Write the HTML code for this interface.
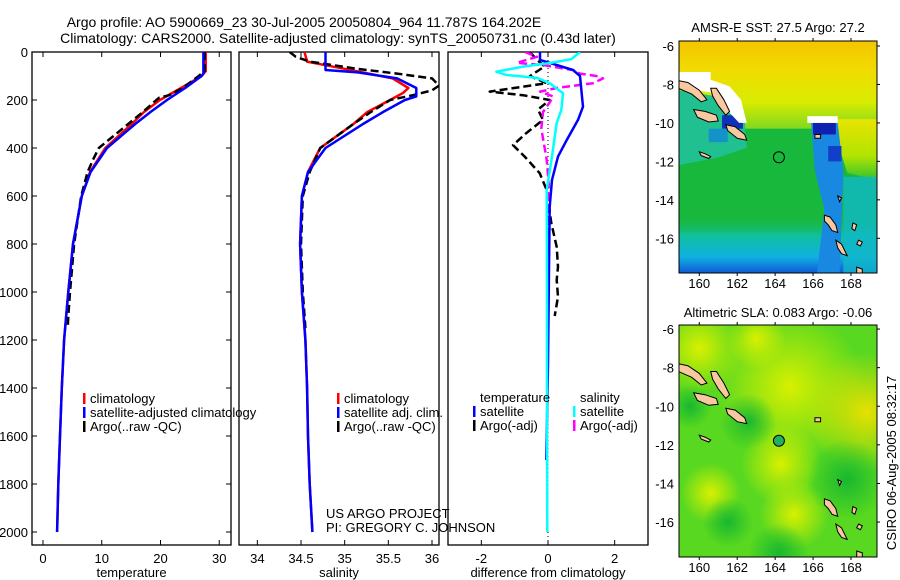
<!DOCTYPE html>
<html><head><meta charset="utf-8"><style>
html,body{margin:0;padding:0;background:#fff;}
svg{display:block;font-family:"Liberation Sans",sans-serif;}
</style></head><body>
<svg id="fig" width="900" height="580" viewBox="0 0 900 580" xmlns="http://www.w3.org/2000/svg">
<defs>
<clipPath id="c1"><rect x="32" y="52" width="199" height="493"/></clipPath>
<clipPath id="c2"><rect x="239" y="52" width="200" height="493"/></clipPath>
<clipPath id="c3"><rect x="448" y="52" width="200" height="493"/></clipPath>
<clipPath id="cm1"><rect x="679" y="41" width="198" height="232"/></clipPath>
<clipPath id="cm2"><rect x="679" y="325" width="198" height="232"/></clipPath>
<linearGradient id="gTop" x1="0" y1="0" x2="0" y2="1">
<stop offset="0" stop-color="#f4c400"/><stop offset="0.35" stop-color="#f0dc00"/><stop offset="0.7" stop-color="#d8ec00"/><stop offset="1" stop-color="#80d820"/></linearGradient>
<linearGradient id="gRight" x1="0" y1="0" x2="0" y2="1">
<stop offset="0" stop-color="#e8e400"/><stop offset="0.6" stop-color="#b0e400"/><stop offset="1" stop-color="#30c030"/></linearGradient>
<linearGradient id="gBot" x1="0" y1="0" x2="0" y2="1">
<stop offset="0" stop-color="#18b840" stop-opacity="0"/><stop offset="0.35" stop-color="#10c0a0"/><stop offset="0.7" stop-color="#10b0e0"/><stop offset="1" stop-color="#1050d8"/></linearGradient>
<radialGradient id="y1"><stop offset="0" stop-color="#d8f000"/><stop offset="1" stop-color="#d8f000" stop-opacity="0"/></radialGradient>
<radialGradient id="y2"><stop offset="0" stop-color="#e8e000"/><stop offset="1" stop-color="#e8e000" stop-opacity="0"/></radialGradient>
<radialGradient id="g2"><stop offset="0" stop-color="#18b830"/><stop offset="1" stop-color="#18b830" stop-opacity="0"/></radialGradient>
</defs>
<g id="titles" font-size="14" fill="#000">
<text x="304" y="27" text-anchor="middle">Argo profile: AO 5900669_23 30-Jul-2005 20050804_964 11.787S 164.202E</text>
<text x="338" y="43" text-anchor="middle">Climatology: CARS2000. Satellite-adjusted climatology: synTS_20050731.nc (0.43d later)</text>
</g>
<g id="plots"></g>
<g id="maps"></g>
<text transform="translate(896,463) rotate(-90)" text-anchor="middle" font-size="13">CSIRO 06-Aug-2005 08:32:17</text>
<text x="326" y="518" font-size="13">US ARGO PROJECT</text>
<text x="326" y="532" font-size="13">PI: GREGORY C. JOHNSON</text>
</svg>
<script>
// ---- data (depth in m, values) ----
const tClimD=[0,80,100,150,200,250,300,400,500,600,800,1000,1200,1400,1600,1800,2000];
const tClimV=[27.7,27.7,27.0,23.5,19.9,17.2,15.1,10.6,8.0,6.6,5.1,4.3,3.6,3.2,2.9,2.6,2.4];
const tSatD=[0,90,100,150,200,250,300,400,500,600,800,1000,1200,1400,1600,1800,2000];
const tSatV=[27.3,27.3,27.0,24.2,21.1,18.3,15.7,10.9,8.1,6.6,5.1,4.3,3.6,3.2,2.9,2.6,2.4];
const tArgD=[0,80,100,150,180,190,200,250,300,350,400,450,500,600,800,1000,1100,1150];
const tArgV=[27.5,27.5,26.5,23.8,21.5,19.8,19.3,17.0,14.5,12.0,9.5,8.5,7.6,6.5,5.3,4.6,4.3,4.2];
const sClimD=[0,40,55,80,110,150,170,200,250,300,400,500,600,800,1000,1200,1400,1600,1800,2000];
const sClimV=[34.54,34.57,34.78,35.14,35.55,35.73,35.67,35.52,35.26,35.1,34.72,34.58,34.51,34.49,34.51,34.55,34.57,34.58,34.6,34.63];
const sSatD=[0,75,85,110,150,185,200,250,300,400,500,600,800,1000,1200,1400,1600,1800,2000];
const sSatV=[34.78,34.78,35.15,35.6,35.82,35.82,35.69,35.44,35.21,34.78,34.58,34.51,34.49,34.51,34.55,34.57,34.58,34.6,34.63];
const sArgD=[0,20,40,70,90,110,140,160,180,200,250,300,400,500,600,800,1000,1150];
const sArgV=[34.37,34.44,34.6,35.14,35.6,36.0,36.08,36.0,35.78,35.52,35.3,35.1,34.72,34.6,34.52,34.5,34.52,34.55];
const dTSatD=[0,33,75,100,228,283,367,436,533,645,900,1300,1700];
const dTSatV=[-0.24,-0.24,0.75,0.96,1.05,0.9,0.56,0.3,0.12,0.05,0.03,0.0,-0.05];
const dSSatD=[0,30,46,61,82,96,108,130,172,242,296,436,575,1000,1500,2000];
const dSSatV=[0.96,0.7,0.06,-0.75,-1.55,-1.25,-0.33,0.05,0.45,0.4,0.26,0.12,-0.04,-0.03,-0.03,-0.02];
const dTArgD=[0,30,60,100,130,165,180,200,240,283,338,388,436,505,575,713,812,895,950,1020,1100];
const dTArgV=[-0.54,-0.35,-0.1,-0.54,-0.04,-1.75,-0.75,0.05,-0.3,-0.15,-0.65,-1.05,-0.7,-0.25,-0.04,0.1,0.26,0.3,0.26,0.3,0.2];
const dSArgD=[0,20,45,55,75,90,100,110,130,150,165,185,210,250,320,400,450,550,800,1100];
const dSArgV=[-0.69,-0.33,-0.93,-0.13,0.75,0.96,1.45,1.65,1.35,0.26,-0.24,0.15,0.05,-0.15,-0.2,-0.1,-0.04,0.02,0.0,0.0];
const depthTicks=[0,200,400,600,800,1000,1200,1400,1600,1800,2000];
const tTicks=[0,10,20,30];
const sTicks=[34,34.5,35,35.5,36];
const sTickLabels=["34","34.5","35","35.5","36"];
const dTicks=[-2,0,2];
const lonTicks=[160,162,164,166,168];
const latTicks=[-6,-8,-10,-12,-14,-16];

const NS="http://www.w3.org/2000/svg";
function mk(tag,attrs,parent){const e=document.createElementNS(NS,tag);for(const k in attrs)e.setAttribute(k,attrs[k]);parent.appendChild(e);return e;}
const plots=document.getElementById('plots');
const sy=d=>52+d*0.24;
function lin(v0,v1,p0,p1){return v=>p0+(v-v0)*(p1-p0)/(v1-v0);}
const panels=[
 {x0:32,x1:231,sx:lin(-1.87,32,32,231),ticks:tTicks,labels:tTicks.map(String),title:"temperature",name:"temperature-panel",clip:"c1"},
 {x0:239,x1:439,sx:lin(33.79,36.08,239,439),ticks:sTicks,labels:sTickLabels,title:"salinity",name:"salinity-panel",clip:"c2"},
 {x0:448,x1:648,sx:lin(-3,3,448,648),ticks:dTicks,labels:dTicks.map(String),title:"difference from climatology",name:"difference-panel",clip:"c3"}
];
panels.forEach((p,i)=>{
 const g=mk('g',{},plots);
 
 
 const r=mk('rect',{x:p.x0,y:52,width:p.x1-p.x0,height:493,fill:'none',stroke:'#000','stroke-width':1.3},g);
 
 
 p.ticks.forEach((t,j)=>{
  const x=p.sx(t);
  mk('line',{x1:x,y1:545,x2:x,y2:540,stroke:'#000'},g);
  mk('line',{x1:x,y1:52,x2:x,y2:57,stroke:'#000'},g);
  const tx=mk('text',{x:x,y:563,'text-anchor':'middle','font-size':13},g);
  tx.textContent=p.labels[j];
  
  
 });
 const at=mk('text',{x:(p.x0+p.x1)/2,y:577,'text-anchor':'middle','font-size':13},g);
 at.textContent=p.title;
 
 
 if(i===0){
  depthTicks.forEach(d=>{
   const y=sy(d);
   mk('line',{x1:32,y1:y,x2:37,y2:y,stroke:'#000'},g);
   mk('line',{x1:231,y1:y,x2:226,y2:y,stroke:'#000'},g);
   const tx=mk('text',{x:28,y:y+5,'text-anchor':'end','font-size':13},g);
   tx.textContent=String(d);
   
   
  });
 }
 p.g=mk('g',{'clip-path':'url(#'+p.clip+')'},g);
});
(function(){const x=panels[2].sx(0);const l=mk('line',{x1:x,y1:52,x2:x,y2:545,stroke:'#000','stroke-dasharray':'1 3'},panels[2].g);
})();
function series(p,D,V,color,dash,name,w){
 const pts=D.map((d,k)=>p.sx(V[k]).toFixed(1)+','+sy(d).toFixed(1)).join(' ');
 const a={points:pts,fill:'none',stroke:color,'stroke-width':w||2.5,'stroke-linejoin':'round'};
 if(dash)a['stroke-dasharray']=dash;
 const l=mk('polyline',a,p.g);
 
 
}
series(panels[0],tClimD,tClimV,'#ff0000',null,'temperature-climatology-line');
series(panels[0],tArgD,tArgV,'#000',"8 4",'temperature-argo-line');
series(panels[0],tSatD,tSatV,'#0000ff',null,'temperature-satellite-line');
series(panels[1],sClimD,sClimV,'#ff0000',null,'salinity-climatology-line');
series(panels[1],sArgD,sArgV,'#000',"8 4",'salinity-argo-line');
series(panels[1],sSatD,sSatV,'#0000ff',null,'salinity-satellite-line');
series(panels[2],dTArgD,dTArgV,'#000',"8 4",'temp-argo-diff-line');
series(panels[2],dSArgD,dSArgV,'#ff00ff',"8 4",'sal-argo-diff-line');
series(panels[2],dTSatD,dTSatV,'#0000ff',null,'temp-satellite-diff-line');
series(panels[2],dSSatD,dSSatV,'#00ffff',null,'sal-satellite-diff-line');
function legend(x,y,items,name){
 const g=mk('g',{},plots);
 
 
 items.forEach((it,k)=>{
  const yy=y+k*14;
  if(it[0])mk('rect',{x:x,y:yy-10,width:2.5,height:11,fill:it[0]},g);
  const t=mk('text',{x:x+7,y:yy,'font-size':13},g);
  t.textContent=it[1];
  
  
 });
}
legend(83,403,[['#ff0000','climatology'],['#0000ff','satellite-adjusted climatology'],['#000','Argo(..raw -QC)']],'temperature-legend');
legend(337,403,[['#ff0000','climatology'],['#0000ff','satellite adj. clim.'],['#000','Argo(..raw -QC)']],'salinity-legend');
legend(473,402,[[null,'temperature'],['#0000ff','satellite'],['#000','Argo(-adj)']],'diff-temperature-legend');
legend(573,402,[[null,'salinity'],['#00ffff','satellite'],['#ff00ff','Argo(-adj)']],'diff-salinity-legend');

// ---- maps ----
const maps=document.getElementById('maps');
function mapFrame(top,lat0,pxPerLat,name,clip){
 const mx=lon=>679+(lon-158.93)*18.96;
 const my=lat=>top+(lat0-lat)*pxPerLat;
 const g=mk('g',{},maps);
 
 
 const inner=mk('g',{'clip-path':'url(#'+clip+')'},g);
 return {g,inner,mx,my,top};
}
function poly(m,pts,fill,stroke,parent){
 const s=pts.map(p=>m.mx(p[0]).toFixed(1)+','+m.my(p[1]).toFixed(1)).join(' ');
 const a={points:s,fill:fill};
 if(stroke){a.stroke=stroke;a['stroke-width']=1;}
 return mk('polygon',a,parent||m.inner);
}
function rectLL(m,l0,l1,a0,a1,fill,op){
 return mk('rect',{x:m.mx(l0),y:m.my(a0),width:m.mx(l1)-m.mx(l0),height:m.my(a1)-m.my(a0),fill:fill,opacity:op||1},m.inner);
}
const islands=[
 [[158.9,-7.8],[159.4,-7.9],[160.0,-8.3],[160.4,-8.8],[160.1,-8.9],[159.6,-8.5],[158.9,-8.2]],
 [[160.6,-8.2],[160.9,-8.2],[161.3,-8.8],[161.6,-9.4],[161.4,-9.6],[161.0,-9.1],[160.7,-8.6]],
 [[159.7,-9.3],[160.3,-9.4],[160.9,-9.6],[161.0,-9.9],[160.5,-9.95],[159.9,-9.7]],
 [[161.4,-10.1],[161.9,-10.2],[162.4,-10.6],[162.5,-10.9],[162.0,-10.8],[161.5,-10.4]],
 [[160.0,-11.5],[160.3,-11.6],[160.6,-11.75],[160.5,-11.85],[160.1,-11.7]],
 [[166.6,-14.8],[166.9,-14.9],[167.2,-15.3],[167.3,-15.7],[167.0,-15.6],[166.8,-15.3],[166.6,-15.1]],
 [[167.2,-16.1],[167.5,-16.3],[167.8,-16.9],[167.5,-16.8],[167.3,-16.5]],
 [[168.1,-15.2],[168.3,-15.3],[168.2,-15.6],[168.05,-15.5]],
 [[168.4,-16.1],[168.6,-16.2],[168.5,-16.4],[168.3,-16.3]],
 [[168.3,-17.5],[168.6,-17.6],[168.6,-17.9],[168.3,-17.9]],
 [[166.1,-10.6],[166.4,-10.6],[166.4,-10.8],[166.1,-10.8]],
 [[167.3,-13.8],[167.5,-13.9],[167.4,-14.1]]
];
function axesMap(m,bottom){
 const r=mk('rect',{x:679,y:m.top,width:198,height:232,fill:'none',stroke:'#000','stroke-width':1},m.g);
 
 
 lonTicks.forEach(l=>{
  const x=m.mx(l);
  mk('line',{x1:x,y1:m.top,x2:x,y2:m.top-3,stroke:'#000'},m.g);
  mk('line',{x1:x,y1:bottom,x2:x,y2:bottom+3,stroke:'#000'},m.g);
  const t=mk('text',{x:x,y:bottom+15,'text-anchor':'middle','font-size':13},m.g);
  t.textContent=String(l);
  
  
 });
 latTicks.forEach(a=>{
  const y=m.my(a);
  mk('line',{x1:877,y1:y,x2:880,y2:y,stroke:'#000'},m.g);
  const t=mk('text',{x:674,y:y+5,'text-anchor':'end','font-size':13},m.g);
  t.textContent=String(a);
  
  
 });
}
// top SST map
const m1=mapFrame(41,-5.74,19.23,'sst-map','cm1');
rectLL(m1,158.9,169.5,-5.7,-17.9,'#18b83c');
rectLL(m1,158.9,169.5,-5.7,-10.3,'url(#gTop)');
poly(m1,[[167.3,-9.8],[169.5,-9.8],[169.5,-13.0],[167.8,-12.6],[167.3,-11]],'url(#gRight)');
rectLL(m1,158.9,169.5,-14.8,-17.9,'url(#gBot)');
poly(m1,[[158.9,-8.3],[160.8,-8.6],[162.4,-9.9],[162.5,-11.3],[161,-11.8],[158.9,-12.2]],'#20c090');
rectLL(m1,161.2,162.3,-9.6,-10.3,'#1030b8');
rectLL(m1,160.5,161.5,-10.3,-11.0,'#1080e0',0.7);
poly(m1,[[165.9,-10.0],[167.3,-10.0],[167.6,-12.5],[167.4,-17.9],[166.2,-17.9],[166.6,-14.5],[166.1,-12.5]],'#1888e0');
rectLL(m1,166.0,167.2,-10.0,-10.6,'#1020b0');
rectLL(m1,166.8,167.5,-11.2,-12.0,'#1040c8');
rectLL(m1,167.6,169.5,-12.8,-17.9,'#10b8c8',0.8);
poly(m1,[[158.9,-7.35],[160.6,-7.35],[160.6,-7.75],[161.6,-8.1],[162.2,-8.8],[162.5,-10.0],[162.1,-10.0],[160.6,-8.4],[158.9,-8.2]],'#ffffff');
rectLL(m1,165.7,167.3,-9.65,-10.0,'#ffffff');
islands.forEach(p=>{const e=poly(m1,p,'#f8c8a0','#000');});
mk('circle',{cx:m1.mx(164.2),cy:m1.my(-11.787),r:5.5,fill:'none',stroke:'#000'},m1.inner);
axesMap(m1,273);
(function(){const t=mk('text',{x:778,y:32,'text-anchor':'middle','font-size':13},m1.g);t.textContent='AMSR-E SST: 27.5 Argo: 27.2';})();
// bottom SLA map
const m2=mapFrame(325,-5.79,19.3,'sla-map','cm2');
rectLL(m2,158.9,169.5,-5.7,-17.9,'#58d820');
[[164.8,-9.0,75,'url(#y1)'],[168.8,-10.3,60,'url(#y2)'],[164.3,-13.0,40,'url(#y1)'],[165.0,-15.6,35,'url(#y1)'],[160.0,-7.0,45,'url(#y1)'],[160.6,-14.5,30,'url(#y1)'],[163,-6.5,30,'url(#y1)'],
 [162.6,-10.8,28,'url(#g2)'],[167.8,-13.8,40,'url(#g2)'],[164.2,-17.6,30,'url(#g2)'],[159.5,-10.0,22,'url(#g2)'],[161.5,-16.0,25,'url(#g2)']].forEach(c=>{
 mk('circle',{cx:m2.mx(c[0]),cy:m2.my(c[1]),r:c[2],fill:c[3]},m2.inner);
});
islands.forEach(p=>{const e=poly(m2,p,'#f8c8a0','#000');});
mk('circle',{cx:m2.mx(164.2),cy:m2.my(-11.787),r:5.5,fill:'#20b060',stroke:'#000'},m2.inner);
axesMap(m2,557);
(function(){const t=mk('text',{x:778,y:317,'text-anchor':'middle','font-size':13},m2.g);t.textContent='Altimetric SLA: 0.083 Argo: -0.06';})();
</script>
</body></html>
